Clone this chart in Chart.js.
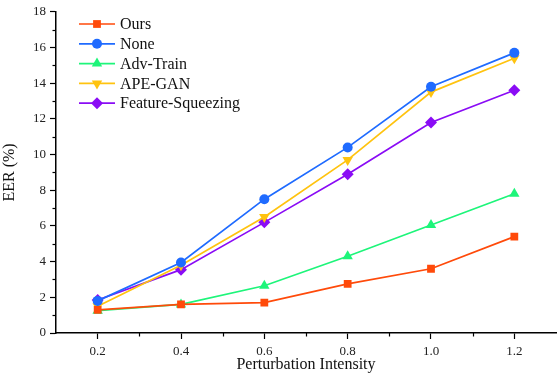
<!DOCTYPE html>
<html>
<head>
<meta charset="utf-8">
<script src="https://cdn.jsdelivr.net/npm/chart.js@4.4.0/dist/chart.umd.min.js"></script>
<style>
  html, body { margin: 0; padding: 0; background: #fff; }
  #wrap { width: 557px; height: 374px; overflow: hidden; }
</style>
</head>
<body>
<div id="wrap"><canvas id="eerChart" width="562" height="374"></canvas></div>
<script>
const intensities = [0.2, 0.4, 0.6, 0.8, 1.0, 1.2];

const oursEER = [1.3, 1.6, 1.7, 2.75, 3.6, 5.4];
const noneEER = [1.8, 3.95, 7.5, 10.4, 13.8, 15.7];
const advTrainEER = [1.25, 1.6, 2.65, 4.3, 6.05, 7.8];
const apeGanEER = [1.5, 3.8, 6.5, 9.7, 13.5, 15.4];
const featSqueezeEER = [1.85, 3.55, 6.2, 8.9, 11.8, 13.6];

const FONT = "'Liberation Serif', 'Times New Roman', serif";

function toPoints(vals) {
  return vals.map((v, i) => ({ x: intensities[i], y: v }));
}

function series(label, vals, color, style, radius) {
  return {
    label: label,
    data: toPoints(vals),
    borderColor: color,
    backgroundColor: color,
    borderWidth: 1.7,
    pointStyle: style,
    pointRadius: radius,
    pointHoverRadius: radius,
    pointBorderWidth: 0,
    tension: 0
  };
}

const datasets = [
  series('Ours', oursEER, '#ff4a0a', 'rect', 5.5),
  series('None', noneEER, '#1f6bff', 'circle', 5),
  series('Adv-Train', advTrainEER, '#1ef57a', 'triangle', 6),
  series('APE-GAN', apeGanEER, '#ffc30f', 'triangle', 6),
  series('Feature-Squeezing', featSqueezeEER, '#8a0cf5', 'rectRot', 6)
];
// APE-GAN uses downward triangles
datasets[3].pointRotation = 180;

// minor ticks + legend drawn inside the plot
const extras = {
  id: 'extras',
  afterDraw(chart) {
    const ctx = chart.ctx;
    const xs = chart.scales.x, ys = chart.scales.y;
    ctx.save();
    ctx.strokeStyle = '#000';
    ctx.lineWidth = 1.2;
    // minor ticks on x at odd tenths
    [0.3, 0.5, 0.7, 0.9, 1.1].forEach(v => {
      const px = Math.round(xs.getPixelForValue(v)) + 0.5;
      ctx.beginPath();
      ctx.moveTo(px, ys.bottom);
      ctx.lineTo(px, ys.bottom + 3.5);
      ctx.stroke();
    });
    // minor ticks on y at odd values
    for (let v = 1; v < 18; v += 2) {
      const py = Math.round(ys.getPixelForValue(v)) + 0.5;
      ctx.beginPath();
      ctx.moveTo(xs.left, py);
      ctx.lineTo(xs.left - 3.5, py);
      ctx.stroke();
    }

    // legend
    const x0 = 79, x1 = 115, textX = 120;
    let y = 24;
    ctx.font = '16px ' + FONT;
    ctx.textBaseline = 'middle';
    ctx.textAlign = 'left';
    chart.data.datasets.forEach(ds => {
      ctx.strokeStyle = ds.borderColor;
      ctx.lineWidth = ds.borderWidth;
      ctx.beginPath();
      ctx.moveTo(x0, y);
      ctx.lineTo(x1, y);
      ctx.stroke();
      ctx.fillStyle = ds.backgroundColor;
      Chart.helpers.drawPoint(ctx, {
        pointStyle: ds.pointStyle,
        rotation: ds.pointRotation || 0,
        radius: ds.pointRadius,
        borderWidth: 0
      }, (x0 + x1) / 2, y);
      ctx.fillStyle = '#111';
      ctx.fillText(ds.label, textX, y + 1);
      y += 19.8;
    });
    ctx.restore();
  }
};

new Chart(document.getElementById('eerChart'), {
  type: 'line',
  data: { datasets: datasets },
  options: {
    responsive: false,
    animation: false,
    layout: { padding: { top: 11, right: 2, left: 0, bottom: 0 } },
    plugins: {
      legend: { display: false },
      tooltip: { enabled: false }
    },
    scales: {
      x: {
        type: 'linear',
        min: 0.1,
        max: 1.3,
        afterFit: s => { s.height = 41; },
        border: { display: true, color: '#000', width: 1.5 },
        grid: {
          display: true,
          drawOnChartArea: false,
          drawTicks: true,
          tickLength: 6,
          tickWidth: 1.2,
          tickColor: c => {
            const k = Math.round(c.tick.value * 10);
            return (k % 2 === 0) ? '#000' : 'rgba(0,0,0,0)';
          }
        },
        ticks: {
          stepSize: 0.1,
          autoSkip: false,
          maxRotation: 0,
          padding: 5,
          color: '#222',
          font: { family: FONT, size: 13 },
          callback: v => {
            const k = Math.round(v * 10);
            return (k % 2 === 0) ? (k / 10).toFixed(1) : '';
          }
        },
        title: {
          display: true,
          text: 'Perturbation Intensity',
          color: '#111',
          font: { family: FONT, size: 16 },
          padding: { top: 0, bottom: 0 }
        }
      },
      y: {
        min: 0,
        max: 18,
        afterFit: s => { s.width = 56; },
        border: { display: true, color: '#000', width: 1.5 },
        grid: {
          display: true,
          drawOnChartArea: false,
          drawTicks: true,
          tickLength: 6,
          tickWidth: 1.2,
          tickColor: c => (Math.round(c.tick.value) % 2 === 0) ? '#000' : 'rgba(0,0,0,0)'
        },
        ticks: {
          stepSize: 1,
          autoSkip: false,
          padding: 4,
          color: '#222',
          font: { family: FONT, size: 13 },
          callback: v => (Math.round(v) % 2 === 0) ? String(Math.round(v)) : ''
        },
        title: {
          display: true,
          text: 'EER (%)',
          color: '#111',
          font: { family: FONT, size: 16 },
          padding: { top: 0, bottom: 2 }
        }
      }
    }
  },
  plugins: [extras]
});
</script>
</body>
</html>
